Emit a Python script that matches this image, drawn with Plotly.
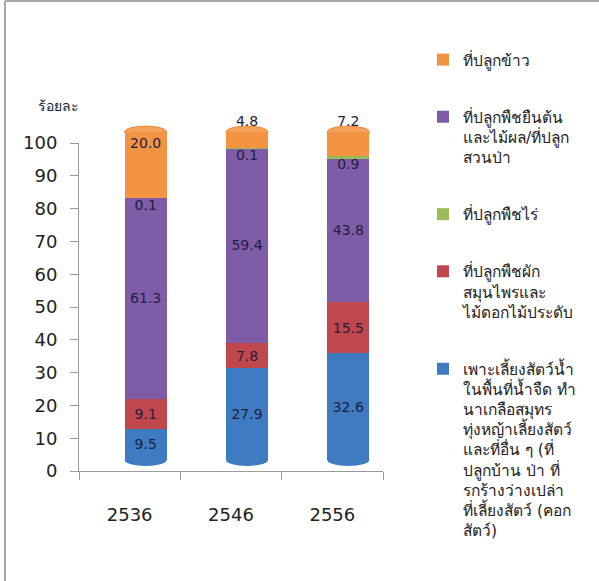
import plotly.graph_objects as go

years = ["2536", "2546", "2556"]
blue_vals = [9.5, 27.9, 32.6]
red_vals = [9.1, 7.8, 15.5]
purple_vals = [61.3, 59.4, 43.8]
green_vals = [0.1, 0.1, 0.9]
orange_vals = [20.0, 4.8, 7.2]

name_blue = ("เพาะเลี้ยงสัตว์น้ำ<br>ในพื้นที่น้ำจืด ทำ<br>นาเกลือสมุทร<br>ทุ่งหญ้าเลี้ยงสัตว์<br>"
             "และที่อื่น ๆ (ที่<br>ปลูกบ้าน ป่า ที่<br>รกร้างว่างเปล่า<br>ที่เลี้ยงสัตว์ (คอก<br>สัตว์)")
name_red = "ที่ปลูกพืชผัก<br>สมุนไพรและ<br>ไม้ดอกไม้ประดับ"
name_purple = "ที่ปลูกพืชยืนต้น<br>และไม้ผล/ที่ปลูก<br>สวนป่า"
name_green = "ที่ปลูกพืชไร่"
name_orange = "ที่ปลูกข้าว"

FONT = "Tahoma, 'DejaVu Sans', sans-serif"
LABEL_COLOR = "#1f2041"
TEXT_COLOR = "#222222"
AXIS_COLOR = "#9a9a9a"
BLUE, RED, PURPLE, GREEN, ORANGE = "#3E7BC1", "#C0474B", "#7E5CA7", "#9BBB59", "#F39442"
CAP_ORANGE = "#F5A15A"

W, H = 599, 581
BARGAP = 0.585


def px_x(p):
    return p / W


def px_y(p):
    return 1 - p / H


def label_positions(vals):
    # small top segments get their label on the cylinder cap
    return ["outside" if v < 10 else "inside" for v in vals]


series = [
    (name_blue, blue_vals, BLUE, 5, "middle", "inside"),
    (name_red, red_vals, RED, 4, "middle", "inside"),
    (name_purple, purple_vals, PURPLE, 2, "middle", "inside"),
    (name_green, green_vals, GREEN, 3, "end", "inside"),
    (name_orange, orange_vals, ORANGE, 1, "end", label_positions(orange_vals)),
]

# depth-shifted bar area: 0 at y=460 px, 100 at y=132 px, with head room up to y=100 px
BAR_BOTTOM, BAR_100, BAR_TOP = 460, 132, 100
bar_range_top = 100 * (BAR_BOTTOM - BAR_TOP) / (BAR_BOTTOM - BAR_100)

fig = go.Figure()
for name, vals, color, rank, anchor, tpos in series:
    fig.add_trace(go.Bar(
        x=years, y=vals, name=name,
        marker=dict(color=color, line=dict(width=0)),
        text=[f"{v:.1f}" for v in vals],
        textposition=tpos,
        insidetextanchor=anchor,
        constraintext="none",
        textfont=dict(family=FONT, size=14, color=LABEL_COLOR),
        outsidetextfont=dict(family=FONT, size=14, color=LABEL_COLOR),
        legendrank=rank,
        legendgroup=str(rank),
        xaxis="x", yaxis="y",
    ))

# carrier for the visible (front) axes
fig.add_trace(go.Scatter(x=years, y=[None] * len(years), xaxis="x2", yaxis="y2",
                         showlegend=False, hoverinfo="skip", mode="markers"))

# cylinder caps (elliptical top and bottom), derived from the stacked totals
half_w = (1 - BARGAP) / 2
cap_h = 1.8
totals = [sum(v) for v in zip(blue_vals, red_vals, purple_vals, green_vals, orange_vals)]
cap_shapes = []
for i, tot in enumerate(totals):
    cap_shapes.append(dict(type="circle", xref="x", yref="y", layer="below",
                           x0=i - half_w, x1=i + half_w, y0=tot - cap_h, y1=tot + cap_h,
                           fillcolor=CAP_ORANGE, line=dict(color="#E8893A", width=1)))
    cap_shapes.append(dict(type="circle", xref="x", yref="y", layer="below",
                           x0=i - half_w, x1=i + half_w, y0=-cap_h, y1=cap_h,
                           fillcolor=BLUE, line=dict(width=0)))

fig.update_layout(
    width=W, height=H,
    barmode="stack",
    bargap=BARGAP,
    paper_bgcolor="white",
    plot_bgcolor="rgba(0,0,0,0)",
    margin=dict(l=0, r=0, t=0, b=0, autoexpand=False),
    font=dict(family=FONT, color=TEXT_COLOR),
    legend=dict(
        x=px_x(423), y=px_y(43), xanchor="left", yanchor="top",
        traceorder="grouped",
        tracegroupgap=34,
        valign="top",
        font=dict(family=FONT, size=15.5, color=TEXT_COLOR),
        itemwidth=30,
        maxheight=560,
        bgcolor="rgba(0,0,0,0)",
    ),
    xaxis=dict(type="category", range=[-0.5, 2.5], visible=False,
               domain=[px_x(95), px_x(399)], anchor="y"),
    yaxis=dict(range=[-4, bar_range_top], visible=False,
               domain=[px_y(BAR_BOTTOM + 4 * 3.28), px_y(BAR_TOP)], anchor="x"),
    xaxis2=dict(
        type="category", range=[-0.5, 2.5], anchor="y2",
        domain=[px_x(79), px_x(383)],
        showline=True, linecolor=AXIS_COLOR, linewidth=1,
        ticks="outside", ticklen=8, tickcolor=AXIS_COLOR,
        tickson="boundaries",
        tickfont=dict(family=FONT, size=18, color=TEXT_COLOR),
        showgrid=False,
        ticklabelstandoff=27,
    ),
    yaxis2=dict(
        range=[0, 100], dtick=10, anchor="x2", side="left",
        domain=[px_y(471), px_y(143)],
        showline=True, linecolor=AXIS_COLOR, linewidth=1,
        ticks="outside", ticklen=8, tickcolor=AXIS_COLOR,
        tickfont=dict(family=FONT, size=18, color=TEXT_COLOR),
        showgrid=False, zeroline=False,
        ticklabelstandoff=9,
    ),
    annotations=[dict(
        text="ร้อยละ", xref="paper", yref="paper",
        x=px_x(58), y=px_y(106), xanchor="center", yanchor="middle",
        showarrow=False, font=dict(family=FONT, size=14, color=TEXT_COLOR),
    )],
    shapes=cap_shapes + [
        dict(type="line", xref="paper", yref="paper", x0=px_x(5), x1=1.0, y0=px_y(1), y1=px_y(1),
             line=dict(color="#a8a8a8", width=2)),
        dict(type="line", xref="paper", yref="paper", x0=px_x(5), x1=px_x(5), y0=px_y(1), y1=0.0,
             line=dict(color="#a8a8a8", width=2)),
    ],
)

fig.write_html("out.html", config={"displayModeBar": False},
               post_script="document.body.style.margin='0';")
